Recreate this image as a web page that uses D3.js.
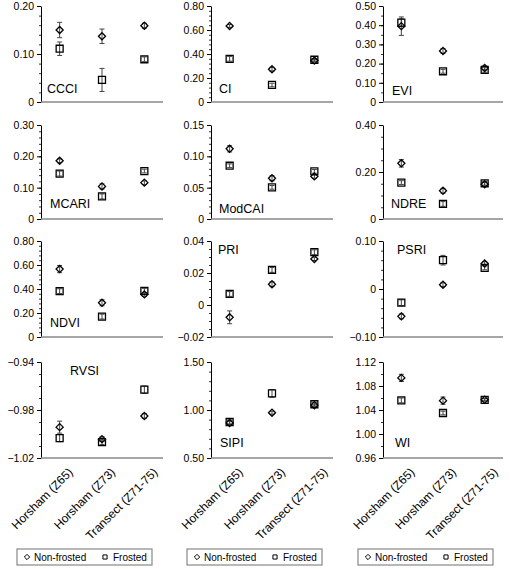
<!DOCTYPE html>
<html><head><meta charset="utf-8">
<script src="https://cdn.jsdelivr.net/npm/d3@7"></script>
<style>body{margin:0;background:#fff}svg{display:block}text{font-family:"Liberation Sans",Arial,Helvetica,sans-serif;fill:#000}</style>
</head><body><svg id="c" width="510" height="569"></svg>
<script>
const categories = ["Horsham (Z65)", "Horsham (Z73)", "Transect (Z71-75)"];
const indexNames = ["CCCI","CI","EVI","MCARI","ModCAI","NDRE","NDVI","PRI","PSRI","RVSI","SIPI","WI"];
const yDomains = [[0,0.20],[0,0.80],[0,0.50],[0,0.30],[0,0.15],[0,0.40],[0,0.80],[-0.02,0.04],[-0.10,0.10],[-1.02,-0.94],[0.50,1.50],[0.96,1.12]];
const yTickValues = [
  [0,0.10,0.20],[0,0.20,0.40,0.60,0.80],[0,0.10,0.20,0.30,0.40,0.50],[0,0.10,0.20,0.30],
  [0,0.05,0.10,0.15],[0,0.20,0.40],[0,0.20,0.40,0.60,0.80],[-0.02,0,0.02,0.04],
  [-0.10,0,0.10],[-1.02,-0.98,-0.94],[0.50,1.00,1.50],[0.96,1.00,1.04,1.08,1.12]];
const minorSteps = [0.02,0.04,0.05,0.02,0.01,0.05,0.04,0.005,0.02,0.01,0.1,0.02];
const nonFrostedMean = [
  [0.150,0.137,0.159],[0.634,0.273,0.345],[0.395,0.266,0.177],[0.186,0.104,0.116],
  [0.112,0.065,0.068],[0.237,0.120,0.148],[0.566,0.285,0.355],[-0.0077,0.013,0.0288],
  [-0.057,0.009,0.053],[-0.9943,-1.0043,-0.985],[0.865,0.972,1.050],[1.0935,1.0556,1.057]];
const nonFrostedErr = [
  [0.016,0.015,0.005],[0.012,0.015,0.010],[0.048,0.012,0.010],[0.006,0.008,0.006],
  [0.005,0.004,0.003],[0.016,0.010,0.008],[0.030,0.025,0.015],[0.004,0.0015,0.001],
  [0.005,0.004,0.004],[0.005,0.002,0.002],[0.020,0.015,0.010],[0.006,0.006,0.002]];
const frostedMean = [
  [0.111,0.046,0.089],[0.360,0.142,0.352],[0.413,0.160,0.167],[0.145,0.072,0.153],
  [0.085,0.0505,0.076],[0.155,0.064,0.152],[0.382,0.170,0.385],[0.0069,0.0219,0.033],
  [-0.0285,0.060,0.044],[-1.0034,-1.0068,-0.963],[0.875,1.173,1.060],[1.056,1.035,1.057]];
const frostedErr = [
  [0.014,0.024,0.005],[0.020,0.015,0.010],[0.020,0.010,0.012],[0.008,0.008,0.006],
  [0.003,0.003,0.003],[0.008,0.010,0.008],[0.020,0.020,0.020],[0.0015,0.0015,0.0015],
  [0.006,0.010,0.004],[0.003,0.002,0.003],[0.020,0.040,0.020],[0.004,0.003,0.002]];
const titlePos = [[6,87],[8,87],[9,89],[9,83],[8,88],[8,83],[9,86],[7,13],[14,13],[29,13],[9,85],[12,85]];
const legendLabels = ["Non-frosted","Frosted"];

const svg = d3.select("#c");
const colX0 = [41,211,383], colX1 = [163,333,503];
const rowY0 = [6,125,241,362], rowY1 = [102,219,337,458];
const fmt = v => { if (Math.abs(v) < 1e-9) return "0"; const s = Math.abs(v).toFixed(2); return v < 0 ? "\u2212" + s : s; };
const diamond = d3.symbol().type(d3.symbolDiamond2).size(32);
const square = d3.symbol().type(d3.symbolSquare2).size(62);

indexNames.forEach((name, i) => {
  const col = i % 3, row = Math.floor(i / 3);
  const x = d3.scalePoint().domain(categories).range([colX0[col], colX1[col]]).padding(0.44);
  const y = d3.scaleLinear().domain(yDomains[i]).range([rowY1[row], rowY0[row]]);
  const g = svg.append("g");
  const [lo, hi] = yDomains[i];
  const n = Math.round((hi - lo) / minorSteps[i]);
  const minors = d3.range(n + 1).map(k => lo + k * minorSteps[i]);
  g.append("g").attr("transform", `translate(${colX0[col]},0)`)
    .call(d3.axisLeft(y).tickValues(minors).tickSize(2).tickFormat(""))
    .call(a => a.select(".domain").remove())
    .call(a => a.selectAll("line").attr("stroke", "#333"));
  g.append("g").attr("transform", `translate(${colX0[col]},0)`)
    .call(d3.axisLeft(y).tickValues(yTickValues[i]).tickSize(4).tickSizeOuter(0).tickPadding(3).tickFormat(fmt))
    .call(a => a.select(".domain").attr("stroke", "#000"))
    .call(a => a.selectAll("text").style("font-size", "10.5px"));
  g.append("line").attr("x1", colX0[col]).attr("x2", colX1[col])
    .attr("y1", rowY1[row]).attr("y2", rowY1[row]).attr("stroke", "#888").attr("stroke-width", 1.6);
  g.append("text").attr("x", colX0[col] + titlePos[i][0]).attr("y", rowY0[row] + titlePos[i][1])
    .style("font-size", "12.5px").text(name);
  const series = [
    {m: frostedMean[i], e: frostedErr[i], sym: square},
    {m: nonFrostedMean[i], e: nonFrostedErr[i], sym: diamond}];
  series.forEach(s => {
    categories.forEach((c, k) => {
      const cx = x(c), top = y(s.m[k] + s.e[k]), bot = y(s.m[k] - s.e[k]);
      const eg = g.append("g").attr("stroke", "#444").attr("stroke-width", 1);
      eg.append("line").attr("x1", cx).attr("x2", cx).attr("y1", top).attr("y2", bot);
      eg.append("line").attr("x1", cx - 2.5).attr("x2", cx + 2.5).attr("y1", top).attr("y2", top);
      eg.append("line").attr("x1", cx - 2.5).attr("x2", cx + 2.5).attr("y1", bot).attr("y2", bot);
    });
  });
  series.forEach(s => {
    g.selectAll(null).data(categories).join("path")
      .attr("d", s.sym)
      .attr("transform", (c, k) => `translate(${x(c)},${y(s.m[k])})`)
      .attr("fill", "none").attr("stroke", "#000").attr("stroke-width", 1.3);
  });
  if (row === 3) {
    g.selectAll(null).data(categories).join("text")
      .attr("transform", c => `translate(${x(c) + 8},${rowY1[row] + 9}) rotate(-45)`)
      .attr("text-anchor", "end").attr("dy", "0.7em")
      .style("font-size", "12px").text(c => c);
  }
});

const legX = [17, 187, 358];
legX.forEach(lx => {
  const lg = svg.append("g").attr("transform", `translate(${lx},549)`);
  lg.append("rect").attr("width", 135).attr("height", 16).attr("fill", "none").attr("stroke", "#888").attr("stroke-width", 1.2);
  lg.append("path").attr("d", d3.symbol().type(d3.symbolDiamond2).size(18)).attr("transform", "translate(10,8)")
    .attr("fill", "none").attr("stroke", "#000").attr("stroke-width", 1);
  lg.append("text").attr("x", 17).attr("y", 12).style("font-size", "10px").text(legendLabels[0]);
  lg.append("path").attr("d", d3.symbol().type(d3.symbolSquare2).size(22)).attr("transform", "translate(88,8)")
    .attr("fill", "none").attr("stroke", "#000").attr("stroke-width", 1);
  lg.append("text").attr("x", 96).attr("y", 12).style("font-size", "10px").text(legendLabels[1]);
});
</script></body></html>
